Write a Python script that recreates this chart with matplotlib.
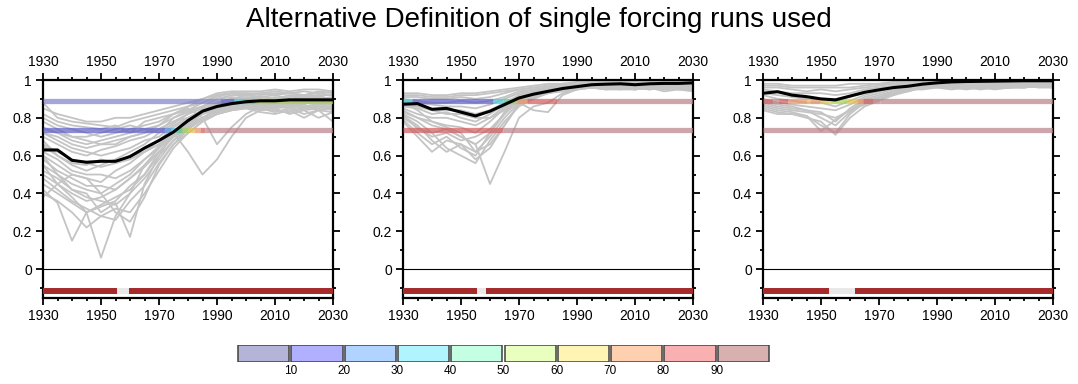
import matplotlib
matplotlib.use('Agg')
import matplotlib.pyplot as plt
from matplotlib.patches import Rectangle
from matplotlib.ticker import MultipleLocator, FixedLocator

plt.rcParams['font.family'] = ['Liberation Sans', 'DejaVu Sans']

# years sampled every 5 years
years = list(range(1930, 2031, 5))

# ---- panel 1 ----
mean_1 = [.63, .63, .575, .565, .57, .57, .595, .64, .68, .725, .785, .835, .86, .875,
          .885, .89, .89, .895, .895, .895, .895]
runs_1 = [
    [.88, .80, .78, .77, .76, .75, .78, .80, .82, .84, .86, .90, .93, .94, .94, .94, .95, .94, .95, .95, .94],
    [.80, .76, .74, .72, .70, .72, .74, .76, .78, .82, .84, .88, .92, .93, .93, .92, .93, .93, .92, .94, .93],
    [.75, .72, .68, .66, .68, .70, .72, .74, .76, .80, .83, .86, .90, .91, .90, .91, .92, .90, .91, .92, .92],
    [.70, .66, .62, .60, .63, .65, .68, .70, .74, .78, .80, .84, .88, .90, .91, .90, .89, .90, .91, .90, .91],
    [.65, .60, .55, .52, .55, .58, .62, .66, .72, .77, .82, .85, .87, .89, .88, .89, .90, .88, .90, .89, .90],
    [.60, .55, .50, .48, .46, .52, .56, .62, .68, .75, .79, .83, .86, .88, .89, .87, .88, .89, .88, .87, .88],
    [.55, .50, .45, .42, .40, .45, .50, .58, .65, .72, .78, .82, .85, .87, .88, .89, .86, .87, .88, .89, .87],
    [.50, .45, .40, .36, .38, .42, .48, .55, .62, .70, .76, .82, .84, .86, .87, .85, .87, .86, .85, .86, .85],
    [.45, .40, .35, .30, .33, .36, .44, .50, .60, .68, .75, .80, .84, .85, .86, .84, .85, .82, .84, .80, .83],
    [.42, .35, .15, .30, .34, .38, .42, .50, .62, .70, .74, .79, .82, .84, .85, .83, .82, .84, .80, .84, .78],
    [.55, .45, .38, .30, .06, .28, .40, .55, .64, .70, .76, .80, .83, .85, .87, .85, .86, .85, .84, .85, .86],
    [.60, .50, .42, .40, .30, .35, .17, .45, .60, .72, .76, .80, .84, .85, .86, .88, .86, .87, .86, .87, .88],
    [.68, .60, .56, .55, .58, .56, .60, .62, .66, .72, .62, .50, .58, .70, .80, .84, .85, .86, .85, .86, .85],
    [.72, .70, .66, .64, .66, .68, .70, .72, .76, .82, .85, .80, .66, .75, .82, .86, .88, .89, .90, .88, .89],
    [.85, .82, .80, .78, .78, .80, .80, .82, .84, .86, .88, .90, .92, .93, .93, .93, .92, .93, .94, .93, .92],
    [.78, .74, .70, .68, .66, .66, .70, .72, .74, .78, .82, .86, .90, .92, .92, .91, .90, .92, .91, .91, .90],
    [.72, .68, .64, .62, .60, .62, .64, .68, .70, .76, .80, .84, .88, .90, .90, .89, .91, .89, .90, .92, .89],
    [.66, .62, .58, .56, .54, .56, .58, .62, .66, .72, .78, .84, .87, .89, .90, .88, .87, .90, .89, .88, .90],
    [.62, .58, .52, .50, .50, .48, .52, .58, .64, .72, .78, .83, .86, .88, .87, .88, .89, .88, .87, .90, .88],
    [.58, .52, .48, .44, .44, .42, .48, .54, .62, .70, .77, .82, .85, .87, .88, .86, .88, .87, .89, .88, .87],
    [.52, .48, .42, .38, .36, .34, .40, .48, .58, .68, .74, .80, .84, .86, .86, .87, .86, .88, .86, .87, .86],
    [.48, .42, .36, .32, .28, .26, .36, .44, .56, .66, .74, .80, .83, .85, .86, .86, .85, .87, .86, .84, .85],
    [.40, .36, .30, .22, .28, .32, .30, .40, .52, .64, .72, .78, .82, .84, .85, .85, .84, .83, .85, .86, .84],
    [.38, .45, .50, .48, .40, .30, .25, .38, .55, .66, .72, .78, .82, .84, .86, .85, .83, .85, .82, .84, .83],
    [.74, .72, .70, .70, .72, .74, .76, .74, .72, .80, .84, .86, .88, .90, .92, .91, .90, .91, .92, .91, .90],
    [.82, .78, .76, .75, .74, .76, .72, .78, .80, .82, .86, .88, .91, .93, .92, .93, .94, .93, .92, .93, .94],
]
hi_edges_1 = [1930, 1991, 1996, 1999, 2003, 2030]
hi_class_1 = [0, 1, 3, 4, 5]
lo_edges_1 = [1930, 1972, 1974, 1976, 1978, 1980, 1982, 1984, 1986, 2030]
lo_class_1 = [1, 2, 3, 4, 5, 6, 7, 8, 9]
gap_1 = (1955.5, 1959.7)

# ---- panel 2 ----
mean_2 = [.872, .875, .845, .85, .83, .81, .835, .87, .905, .925, .94, .955, .965, .975,
          .978, .98, .975, .98, .982, .982, .985]
runs_2 = [
    [.93, .93, .92, .92, .93, .93, .94, .95, .96, .97, .98, .98, .99, .99, .99, .99, .99, .99, .99, .99, .99],
    [.91, .91, .90, .90, .91, .90, .91, .93, .95, .96, .97, .98, .98, .98, .98, .98, .98, .98, .98, .98, .98],
    [.89, .88, .87, .86, .86, .85, .87, .90, .93, .95, .96, .97, .97, .98, .97, .97, .97, .98, .97, .98, .97],
    [.86, .85, .82, .83, .80, .78, .82, .87, .92, .94, .95, .96, .97, .97, .96, .97, .96, .97, .97, .96, .97],
    [.83, .80, .78, .76, .75, .72, .78, .85, .90, .93, .95, .96, .96, .96, .97, .96, .97, .96, .96, .97, .96],
    [.80, .75, .70, .72, .68, .70, .74, .82, .90, .92, .94, .95, .96, .97, .96, .96, .95, .96, .95, .96, .95],
    [.78, .70, .62, .68, .66, .62, .70, .80, .88, .91, .93, .95, .96, .96, .95, .95, .96, .95, .96, .95, .94],
    [.82, .74, .72, .64, .60, .56, .68, .78, .86, .90, .93, .94, .95, .96, .96, .95, .95, .96, .94, .95, .96],
    [.84, .80, .76, .74, .70, .66, .45, .62, .80, .86, .88, .93, .95, .96, .97, .96, .96, .95, .96, .97, .96],
    [.88, .84, .78, .75, .72, .62, .66, .76, .88, .84, .83, .92, .95, .96, .96, .97, .96, .97, .96, .97, .97],
    [.92, .92, .91, .91, .92, .92, .93, .94, .95, .96, .97, .98, .98, .99, .98, .98, .99, .98, .98, .99, .98],
    [.90, .89, .88, .88, .89, .88, .89, .91, .94, .95, .96, .97, .98, .97, .98, .97, .98, .97, .98, .97, .98],
    [.87, .86, .84, .84, .84, .82, .84, .88, .92, .94, .96, .97, .97, .97, .97, .97, .97, .97, .97, .97, .96],
    [.85, .82, .80, .80, .78, .76, .80, .86, .91, .93, .95, .96, .97, .96, .97, .96, .96, .97, .96, .96, .97],
    [.82, .78, .72, .74, .70, .66, .72, .83, .90, .93, .94, .95, .96, .96, .96, .96, .97, .96, .96, .96, .95],
    [.79, .72, .66, .70, .64, .60, .72, .82, .89, .92, .94, .96, .96, .97, .96, .96, .96, .96, .95, .96, .96],
    [.81, .76, .68, .62, .66, .58, .64, .76, .87, .91, .93, .95, .96, .96, .95, .96, .95, .96, .96, .95, .95],
    [.88, .86, .84, .82, .82, .80, .80, .84, .90, .93, .95, .96, .97, .97, .97, .96, .97, .97, .97, .97, .97],
]
hi_edges_2 = [1930, 1933, 1961, 1964.6, 1967, 1969.2, 1972.6, 1983, 2030]
hi_class_2 = [3, 1, 3, 4, 5, 7, 8, 9]
lo_edges_2 = [1930, 1964.6, 2030]
lo_class_2 = [8, 9]
gap_2 = (1955.4, 1958.5)

# ---- panel 3 ----
mean_3 = [.93, .938, .92, .912, .90, .895, .915, .935, .948, .96, .967, .978, .985, .99,
          .992, .993, .994, .995, .996, .996, .996]
runs_3 = [
    [.98, .98, .97, .97, .97, .97, .98, .98, .98, .99, .99, .99, .99, .99, .99, .99, .99, .99, .99, .99, .99],
    [.96, .96, .95, .94, .95, .94, .95, .96, .97, .98, .98, .98, .99, .99, .99, .99, .98, .99, .99, .99, .98],
    [.93, .92, .91, .90, .90, .89, .91, .93, .95, .96, .97, .98, .98, .98, .98, .98, .98, .98, .98, .98, .98],
    [.90, .88, .87, .86, .85, .84, .87, .91, .93, .95, .96, .97, .97, .97, .97, .96, .97, .97, .97, .98, .97],
    [.87, .85, .84, .83, .82, .80, .84, .89, .91, .93, .95, .96, .97, .96, .95, .96, .96, .96, .97, .96, .96],
    [.85, .83, .82, .81, .76, .72, .82, .88, .90, .92, .94, .96, .96, .96, .96, .95, .96, .97, .96, .97, .96],
    [.84, .82, .82, .80, .78, .71, .80, .86, .89, .92, .95, .95, .96, .95, .96, .96, .95, .96, .96, .97, .96],
    [.86, .84, .83, .81, .73, .79, .84, .87, .90, .93, .94, .96, .97, .96, .96, .96, .96, .96, .97, .97, .97],
    [.97, .97, .96, .96, .96, .96, .96, .97, .98, .98, .99, .99, .99, .99, .99, .99, .99, .99, .99, .99, .99],
    [.95, .94, .93, .93, .93, .92, .93, .95, .96, .97, .98, .98, .98, .98, .98, .98, .98, .98, .98, .98, .98],
    [.92, .90, .89, .88, .88, .86, .89, .92, .94, .96, .97, .97, .98, .98, .97, .97, .97, .98, .97, .97, .97],
    [.89, .87, .86, .84, .83, .78, .85, .90, .92, .94, .96, .97, .97, .97, .96, .96, .97, .96, .97, .97, .97],
    [.88, .86, .85, .84, .80, .76, .83, .89, .91, .94, .95, .96, .97, .96, .96, .96, .96, .96, .96, .97, .96],
]
hi_edges_3 = [1930, 1933.6, 1935.3, 1938.7, 1945, 1946.2, 1949.7, 1953, 1958.9, 1962.3,
              1964.6, 1968, 1970.3, 2030]
hi_class_3 = [8, 9, 8, 7, 6, 7, 6, 5, 6, 7, 8, 9, 9]
lo_edges_3 = [1930, 2030]
lo_class_3 = [9]
gap_3 = (1952.8, 1961.7)

band_levels = (0.887, 0.735)
bar_level = -0.117

# colour-bar classes
cbar_labels = [10, 20, 30, 40, 50, 60, 70, 80, 90]
cbar_colors = ['#b4b4d8', '#b0b0ff', '#b0d4ff', '#b0f4ff', '#c4ffe4',
               '#e8ffc0', '#fff4b4', '#ffd0b0', '#f8b0b0', '#d8b0b0']
# stronger versions used on the bands (drawn translucent)
band_colors = ['#7f7fc8', '#5a5ac8', '#5090e0', '#40c8d8', '#50c890',
               '#a8d050', '#e0c040', '#e89060', '#d05858', '#b88088']

panels = [
    (runs_1, mean_1, hi_edges_1, hi_class_1, lo_edges_1, lo_class_1, gap_1),
    (runs_2, mean_2, hi_edges_2, hi_class_2, lo_edges_2, lo_class_2, gap_2),
    (runs_3, mean_3, hi_edges_3, hi_class_3, lo_edges_3, lo_class_3, gap_3),
]


def _draw_band(ax, level, edges, classes):
    for i, c in enumerate(classes):
        ax.plot([edges[i], edges[i + 1]], [level, level], '-', c=band_colors[c],
                alpha=0.7, linewidth=3.8, solid_capstyle='butt', zorder=3)


def _draw_panel(ax, runs, mean, hi_e, hi_c, lo_e, lo_c, gap):
    for run in runs:
        ax.plot(years, run, '-', c='#c4c4c4', linewidth=1.3, zorder=2)
    _draw_band(ax, band_levels[0], hi_e, hi_c)
    _draw_band(ax, band_levels[1], lo_e, lo_c)
    ax.plot(years, mean, '-', c='k', linewidth=2.2, zorder=4)
    ax.axhline(0, c='k', linewidth=0.8, zorder=1)
    # bottom bar
    ax.plot([1930, gap[0]], [bar_level] * 2, '-', c='#a52a2a', linewidth=4.3,
            solid_capstyle='butt', zorder=3)
    ax.plot([gap[0], gap[1]], [bar_level] * 2, '-', c='#e8e8e8', linewidth=4.3,
            solid_capstyle='butt', zorder=3)
    ax.plot([gap[1], 2030], [bar_level] * 2, '-', c='#a52a2a', linewidth=4.3,
            solid_capstyle='butt', zorder=3)

    ax.set_xlim(1930, 2030)
    ax.set_ylim(-0.153, 1.0)
    ax.xaxis.set_major_locator(FixedLocator(list(range(1930, 2031, 20))))
    ax.xaxis.set_minor_locator(MultipleLocator(5))
    ax.yaxis.set_major_locator(FixedLocator([0, 0.2, 0.4, 0.6, 0.8, 1.0]))
    ax.yaxis.set_minor_locator(MultipleLocator(0.1))
    ax.set_yticklabels(['0', '0.2', '0.4', '0.6', '0.8', '1'])
    ax.tick_params(which='both', direction='out', top=True, right=True,
                   labeltop=True, labelsize=10, width=1.3)
    ax.tick_params(which='major', length=5, pad=3)
    ax.tick_params(which='minor', length=2.5)
    for sp in ax.spines.values():
        sp.set_linewidth(1.6)


fig = plt.figure(figsize=(10.78, 3.84), dpi=100)
lefts = [43, 403, 763]
for left, p in zip(lefts, panels):
    ax = fig.add_axes([left / 1078, (384 - 298) / 384, 290 / 1078, 218 / 384])
    _draw_panel(ax, *p)

fig.text(0.5, 1 - 20 / 384, 'Alternative Definition of single forcing runs used',
         ha='center', va='center', fontsize=20)

# label bar
cax = fig.add_axes([237 / 1078, (384 - 362) / 384, 533 / 1078, 17 / 384])
for i, col in enumerate(cbar_colors):
    cax.add_patch(Rectangle((i * 10 + 0.2, 0), 9.6, 1, facecolor=col,
                            edgecolor='#404040', linewidth=1.1))
cax.set_xlim(0, 100)
cax.set_ylim(0, 1)
cax.axis('off')
for v in cbar_labels:
    cax.text(v, -0.2, str(v), ha='center', va='top', fontsize=8.5)

fig.savefig('out.png', dpi=100)
